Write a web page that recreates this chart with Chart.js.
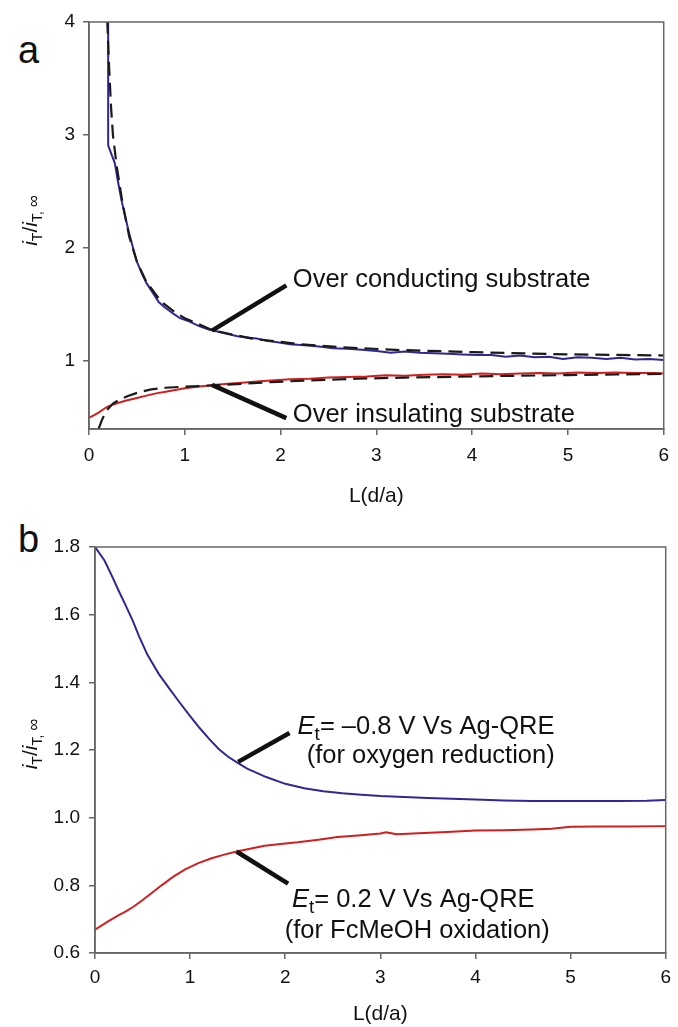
<!DOCTYPE html>
<html>
<head>
<meta charset="utf-8">
<script src="https://cdn.jsdelivr.net/npm/chart.js@4.4.1/dist/chart.umd.min.js"></script>
<style>
  body { margin: 0; background: #fff; width: 678px; height: 1027px; position: relative; overflow: hidden; }
  .box { position: absolute; left: 0; width: 678px; }
  #boxA { top: 0; height: 515px; }
  #boxB { top: 515px; height: 512px; }
  .panel { position: absolute; left: 18px; font: 38px "Liberation Sans", Arial, sans-serif; line-height: 38px; color: #111; }
</style>
</head>
<body>
<div class="panel" style="top:31px">a</div>
<div class="panel" style="top:520px">b</div>
<div class="box" id="boxA"><canvas id="chartA" width="678" height="515"></canvas></div>
<div class="box" id="boxB"><canvas id="chartB" width="678" height="512"></canvas></div>
<script>
// tick values
var xTicks = [0, 1, 2, 3, 4, 5, 6];
var yTicksA = [1, 2, 3, 4];
var yTicksB = [0.6, 0.8, 1.0, 1.2, 1.4, 1.6, 1.8];

// panel a - over conducting substrate (measured)
var condExpX = [0.2, 0.2, 0.23, 0.27, 0.3, 0.34, 0.38, 0.42, 0.46, 0.5, 0.55, 0.6, 0.67, 0.73, 0.8, 0.88, 0.95, 1.05, 1.15, 1.25, 1.35, 1.45, 1.55, 1.65, 1.75, 1.85, 1.95, 2.1, 2.25, 2.4, 2.55, 2.7, 2.85, 3.0, 3.15, 3.3, 3.45, 3.6, 3.75, 3.9, 4.05, 4.2, 4.35, 4.5, 4.65, 4.8, 4.95, 5.1, 5.25, 5.4, 5.55, 5.7, 5.85, 6.0];
var condExpY = [4.05, 2.91, 2.84, 2.75, 2.6, 2.42, 2.27, 2.13, 2.0, 1.88, 1.78, 1.69, 1.6, 1.52, 1.47, 1.42, 1.38, 1.35, 1.31, 1.28, 1.26, 1.24, 1.22, 1.21, 1.2, 1.18, 1.17, 1.15, 1.14, 1.13, 1.115, 1.11, 1.1, 1.09, 1.075, 1.085, 1.075, 1.07, 1.065, 1.06, 1.055, 1.055, 1.04, 1.05, 1.035, 1.04, 1.02, 1.035, 1.03, 1.02, 1.03, 1.015, 1.02, 1.01];
// panel a - over conducting substrate (theory, dashed)
var condThX = [0.19, 0.21, 0.23, 0.25, 0.29, 0.35, 0.42, 0.5, 0.6, 0.75, 0.9, 1.0, 1.3, 1.7, 2.2, 2.6, 3.2, 4.0, 5.0, 6.0];
var condThY = [4.02, 3.6, 3.25, 3.0, 2.72, 2.4, 2.1, 1.88, 1.7, 1.53, 1.43, 1.38, 1.27, 1.2, 1.15, 1.125, 1.1, 1.08, 1.06, 1.05];
// panel a - over insulating substrate (measured)
var insExpX = [0, 0.05, 0.1, 0.15, 0.2, 0.3, 0.4, 0.5, 0.6, 0.7, 0.8, 0.9, 1.0, 1.15, 1.3, 1.45, 1.6, 1.75, 1.9, 2.1, 2.3, 2.5, 2.7, 2.9, 3.1, 3.3, 3.5, 3.7, 3.9, 4.1, 4.3, 4.5, 4.7, 4.9, 5.1, 5.3, 5.5, 5.7, 5.9, 6.0];
var insExpY = [0.5, 0.52, 0.545, 0.575, 0.6, 0.63, 0.655, 0.675, 0.695, 0.715, 0.73, 0.745, 0.76, 0.775, 0.79, 0.8, 0.81, 0.82, 0.83, 0.84, 0.845, 0.855, 0.86, 0.865, 0.875, 0.87, 0.88, 0.885, 0.88, 0.89, 0.885, 0.89, 0.895, 0.89, 0.9, 0.895, 0.9, 0.895, 0.895, 0.89];
// panel a - over insulating substrate (theory, dashed)
var insThX = [0.1, 0.13, 0.165, 0.2, 0.25, 0.32, 0.4, 0.52, 0.65, 0.8, 1.0, 1.3, 1.6, 1.9, 2.3, 2.8, 3.3, 3.8, 4.4, 5.0, 5.5, 6.0];
var insThY = [0.4, 0.47, 0.535, 0.58, 0.625, 0.66, 0.69, 0.725, 0.75, 0.765, 0.775, 0.785, 0.8, 0.815, 0.83, 0.845, 0.855, 0.862, 0.87, 0.877, 0.882, 0.887];

// panel b - Et = -0.8 V (oxygen reduction)
var oxRedX = [0, 0.1, 0.18, 0.25, 0.32, 0.4, 0.46, 0.55, 0.67, 0.78, 0.88, 1.0, 1.1, 1.2, 1.3, 1.4, 1.5, 1.6, 1.8, 2.0, 2.2, 2.4, 2.6, 2.8, 3.0, 3.25, 3.5, 3.75, 4.0, 4.3, 4.6, 4.9, 5.2, 5.5, 5.8, 6.0];
var oxRedY = [1.8, 1.76, 1.713, 1.67, 1.629, 1.58, 1.538, 1.482, 1.425, 1.382, 1.344, 1.3, 1.265, 1.233, 1.203, 1.18, 1.162, 1.145, 1.12, 1.1, 1.087, 1.078, 1.072, 1.068, 1.064, 1.061, 1.058, 1.056, 1.054, 1.051, 1.049, 1.049, 1.049, 1.049, 1.05, 1.052];
// panel b - Et = 0.2 V (FcMeOH oxidation)
var fcOxX = [0, 0.146, 0.25, 0.32, 0.4, 0.495, 0.6, 0.7, 0.82, 0.948, 1.08, 1.226, 1.35, 1.488, 1.63, 1.784, 1.95, 2.13, 2.35, 2.55, 2.8, 3.0, 3.06, 3.17, 3.4, 3.7, 4.0, 4.3, 4.59, 4.8, 5.0, 5.3, 5.6, 6.0];
var fcOxY = [0.669, 0.695, 0.712, 0.722, 0.736, 0.755, 0.778, 0.8, 0.825, 0.847, 0.865, 0.88, 0.89, 0.9, 0.908, 0.917, 0.922, 0.927, 0.935, 0.943, 0.948, 0.953, 0.957, 0.951, 0.954, 0.958, 0.962, 0.963, 0.965, 0.967, 0.973, 0.974, 0.974, 0.975];

var FONT = '"Liberation Sans", Arial, sans-serif';
var INK = '#111';
var AXIS = '#666';
var BLUE = '#2d2896';
var RED = '#d11f1f';

function pts(xs, ys) {
    return xs.map(function(x, i) { return {x: x, y: ys[i]}; });
}

function drawRich(ctx, segs, x, y, center) {
    var w = 0;
    segs.forEach(function(s) { ctx.font = s.f; w += ctx.measureText(s.t).width; });
    var cx = center ? x - w / 2 : x;
    segs.forEach(function(s) {
        ctx.font = s.f;
        ctx.fillText(s.t, cx, y + (s.dy || 0));
        cx += ctx.measureText(s.t).width;
    });
}

var yTitleSegs = [
    {t: 'i', f: 'italic 21px ' + FONT},
    {t: 'T', f: '14px ' + FONT, dy: 5},
    {t: '/', f: '21px ' + FONT},
    {t: 'i', f: 'italic 21px ' + FONT},
    {t: 'T, ', f: '14px ' + FONT, dy: 5},
    {t: '\u221E', f: '17px ' + FONT, dy: 2}
];

// box, leader lines, notes and y title
var extras = {
    id: 'extras',
    afterDraw: function(chart, args, opts) {
        var ctx = chart.ctx, a = chart.chartArea, sx = chart.scales.x, sy = chart.scales.y;
        ctx.save();
        ctx.strokeStyle = AXIS;
        ctx.lineWidth = 1.5;
        ctx.strokeRect(a.left, a.top, a.right - a.left, a.bottom - a.top);
        ctx.strokeStyle = INK;
        ctx.lineWidth = 4.5;
        opts.leaders.forEach(function(l) {
            ctx.beginPath();
            ctx.moveTo(sx.getPixelForValue(l[0]), sy.getPixelForValue(l[1]));
            ctx.lineTo(sx.getPixelForValue(l[2]), sy.getPixelForValue(l[3]));
            ctx.stroke();
        });
        ctx.fillStyle = INK;
        ctx.textAlign = 'left';
        ctx.textBaseline = 'alphabetic';
        opts.notes.forEach(function(n) {
            drawRich(ctx, n.segs, sx.getPixelForValue(n.x), sy.getPixelForValue(n.y));
        });
        ctx.translate(opts.titleX, (a.top + a.bottom) / 2 + opts.titleDy);
        ctx.rotate(-Math.PI / 2);
        drawRich(ctx, yTitleSegs, 0, 0, true);
        ctx.restore();
    }
};

function line(data, color, dashed) {
    return {
        data: data,
        borderColor: color,
        borderWidth: dashed ? 2.2 : 2,
        borderDash: dashed ? [14, 7] : [],
        pointRadius: 0,
        tension: 0,
        fill: false
    };
}

function makeOptions(c) {
    return {
        responsive: false,
        animation: false,
        layout: {padding: c.padding},
        plugins: {
            legend: {display: false},
            tooltip: {enabled: false},
            extras: c.extras
        },
        scales: {
            x: {
                type: 'linear', min: 0, max: 6,
                afterBuildTicks: function(s) { s.ticks = xTicks.map(function(v) { return {value: v}; }); },
                afterFit: function(s) { s.height = c.xHeight; },
                grid: {drawOnChartArea: false, drawTicks: true, tickLength: 6, color: AXIS, lineWidth: 1.5},
                border: {display: true, color: AXIS, width: 1.5},
                ticks: {font: {family: FONT, size: 19}, color: INK, padding: c.xPad, maxRotation: 0},
                title: {display: true, text: 'L(d/a)', font: {family: FONT, size: 21}, color: INK, padding: {top: 0, bottom: 0}}
            },
            y: {
                type: 'linear', min: c.yMin, max: c.yMax,
                afterBuildTicks: function(s) { s.ticks = c.yTicks.map(function(v) { return {value: v}; }); },
                afterFit: function(s) { s.width = c.yWidth; },
                grid: {drawOnChartArea: false, drawTicks: true, tickLength: 6, color: AXIS, lineWidth: 1.5},
                border: {display: true, color: AXIS, width: 1.5},
                ticks: {font: {family: FONT, size: 19}, color: INK, padding: c.yPad, callback: c.fmt}
            }
        }
    };
}

var noteFont = '25.5px ' + FONT;

new Chart(document.getElementById('chartA').getContext('2d'), {
    type: 'line',
    data: {
        datasets: [
            line(pts(condThX, condThY), '#1a1a1a', true),
            line(pts(insThX, insThY), '#1a1a1a', true),
            line(pts(condExpX, condExpY), BLUE, false),
            line(pts(insExpX, insExpY), RED, false)
        ]
    },
    options: makeOptions({
        padding: {left: 0, right: 8, top: 22, bottom: 6},
        xHeight: 80, yWidth: 89, xPad: 9, yPad: 8,
        yMin: 0.4, yMax: 4, yTicks: yTicksA,
        fmt: function(v) { return String(v); },
        extras: {
            titleX: 37, titleDy: -5,
            leaders: [[1.284, 1.27, 2.06, 1.67], [1.284, 0.79, 2.06, 0.496]],
            notes: [
                {x: 2.128, y: 1.655, segs: [{t: 'Over conducting substrate', f: noteFont}]},
                {x: 2.128, y: 0.463, segs: [{t: 'Over insulating substrate', f: noteFont}]}
            ]
        }
    }),
    plugins: [extras]
});

new Chart(document.getElementById('chartB').getContext('2d'), {
    type: 'line',
    data: {
        datasets: [
            line(pts(oxRedX, oxRedY), BLUE, false),
            line(pts(fcOxX, fcOxY), RED, false)
        ]
    },
    options: makeOptions({
        padding: {left: 0, right: 6, top: 32, bottom: 0},
        xHeight: 74, yWidth: 95, xPad: 7, yPad: 9,
        yMin: 0.6, yMax: 1.8, yTicks: yTicksB,
        fmt: function(v) { return v.toFixed(1); },
        extras: {
            titleX: 37, titleDy: -6,
            leaders: [[1.505, 1.165, 2.045, 1.25], [1.488, 0.9, 2.03, 0.805]],
            notes: [
                {x: 2.13, y: 1.248, segs: [{t: 'E', f: 'italic ' + noteFont}, {t: 't', f: '19px ' + FONT, dy: 6}, {t: '= \u20130.8 V Vs Ag-QRE', f: noteFont}]},
                {x: 2.225, y: 1.161, segs: [{t: '(for oxygen reduction)', f: noteFont}]},
                {x: 2.07, y: 0.737, segs: [{t: 'E', f: 'italic ' + noteFont}, {t: 't', f: '19px ' + FONT, dy: 6}, {t: '= 0.2 V Vs Ag-QRE', f: noteFont}]},
                {x: 1.995, y: 0.644, segs: [{t: '(for FcMeOH oxidation)', f: noteFont}]}
            ]
        }
    }),
    plugins: [extras]
});
</script>
</body>
</html>
